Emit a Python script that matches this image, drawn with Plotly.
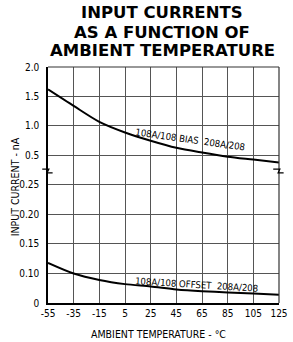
import plotly.graph_objects as go

temps = [-55, -35, -15, 5, 25, 45, 65, 85, 105, 125]
bias_current = [1.62, 1.34, 1.07, 0.89, 0.75, 0.63, 0.55, 0.48, 0.43, 0.38]
offset_current = [0.118, 0.100, 0.089, 0.082, 0.078, 0.073, 0.070, 0.068, 0.066, 0.064]

x_ticks = [-55, -35, -15, 5, 25, 45, 65, 85, 105, 125]
upper_ticks = [0.5, 1.0, 1.5, 2.0]
upper_labels = ["0.5", "1.0", "1.5", "2.0"]
lower_ticks = [0.05, 0.10, 0.15, 0.20, 0.25]
lower_labels = ["0", "0.10", "0.15", "0.20", "0.25"]
title_lines = ["INPUT CURRENTS", "AS A FUNCTION OF", "AMBIENT TEMPERATURE"]

FONT = "Liberation Sans Narrow, DejaVu Sans Condensed, Arial Narrow, sans-serif"
GRID = "#555555"
split = 0.5636

L, T, W, H = 48, 67, 240, 236
def px(xp):
    return (xp - L) / W
def py(yp):
    return (T + H - yp) / H

fig = go.Figure()
fig.add_trace(go.Scatter(x=temps, y=bias_current, mode="lines", xaxis="x", yaxis="y2",
                         line=dict(color="black", width=2, shape="spline", smoothing=0.8),
                         showlegend=False, hoverinfo="skip"))
fig.add_trace(go.Scatter(x=temps, y=offset_current, mode="lines", xaxis="x", yaxis="y",
                         line=dict(color="black", width=2, shape="spline", smoothing=0.8),
                         showlegend=False, hoverinfo="skip"))

fig.update_layout(
    width=293, height=342,
    margin=dict(l=48, r=5, t=67, b=39),
    paper_bgcolor="white", plot_bgcolor="white",
    font=dict(family=FONT, size=10, color="black"),
    xaxis=dict(range=[-55, 125], tickvals=x_ticks, ticktext=[str(t) for t in x_ticks],
               showgrid=True, gridcolor=GRID, gridwidth=1, zeroline=False,
               showline=True, linecolor="black", linewidth=1.5, anchor="y",
               ticks="", ticklen=0, tickfont=dict(size=10), ticklabeloverflow="allow"),
    yaxis=dict(domain=[0, split], range=[0.05, 0.2754], tickvals=lower_ticks, ticktext=lower_labels,
               showgrid=True, gridcolor=GRID, gridwidth=1, zeroline=False,
               showline=True, linecolor="black", linewidth=1.5, anchor="x", ticks="",
               ticklabelstandoff=5),
    yaxis2=dict(domain=[split, 1], range=[0.254, 2.0], tickvals=upper_ticks, ticktext=upper_labels,
                showgrid=True, gridcolor=GRID, gridwidth=1, zeroline=False,
                showline=True, linecolor="black", linewidth=1.5, anchor="x", ticks="",
                ticklabelstandoff=5),
)

# title lines
for line, yc in zip(title_lines, [12, 32, 50]):
    fig.add_annotation(text=f"<b>{line}</b>", xref="paper", yref="paper", x=px(166.5), y=py(yc + 1),
                       showarrow=False, xanchor="center", yanchor="middle",
                       font=dict(family="DejaVu Sans, Liberation Sans, sans-serif", size=16.5, color="black"))

# frame top and right
fig.add_shape(type="line", xref="paper", yref="paper", x0=0, x1=1, y0=1, y1=1,
              line=dict(color="#333", width=1.2))
fig.add_shape(type="line", xref="paper", yref="paper", x0=1, x1=1, y0=0, y1=1,
              line=dict(color="#333", width=1.2))
# break marks
for xp in (0, 1):
    fig.add_shape(type="path", xref="paper", yref="paper",
                  path=f"M {xp-0.025},{split+0.004} L {xp+0.004},{split+0.004} L {xp-0.004},{split-0.012} L {xp+0.02},{split-0.012}",
                  line=dict(color="black", width=1.2))

fig.add_annotation(text="INPUT CURRENT - nA", xref="paper", yref="paper", x=px(14), y=py(187),
                   textangle=-90, showarrow=False, xanchor="center", yanchor="middle",
                   font=dict(family=FONT, size=10.5))
fig.add_annotation(text="AMBIENT TEMPERATURE - °C", xref="paper", yref="paper", x=px(163), y=py(334),
                   showarrow=False, xanchor="center", yanchor="middle",
                   font=dict(family=FONT, size=10.5))
fig.add_annotation(text="108A/108 BIAS  208A/208", x=56, y=0.77, xref="x", yref="y2",
                   textangle=8, showarrow=False, font=dict(family=FONT, size=9.5))
fig.add_annotation(text="108A/108 OFFSET  208A/208", x=60.5, y=0.0815, xref="x", yref="y",
                   textangle=3.5, showarrow=False, font=dict(family=FONT, size=9.5))

fig.write_html("out.html", config={"displayModeBar": False},
               post_script="document.body.style.margin='0';")
